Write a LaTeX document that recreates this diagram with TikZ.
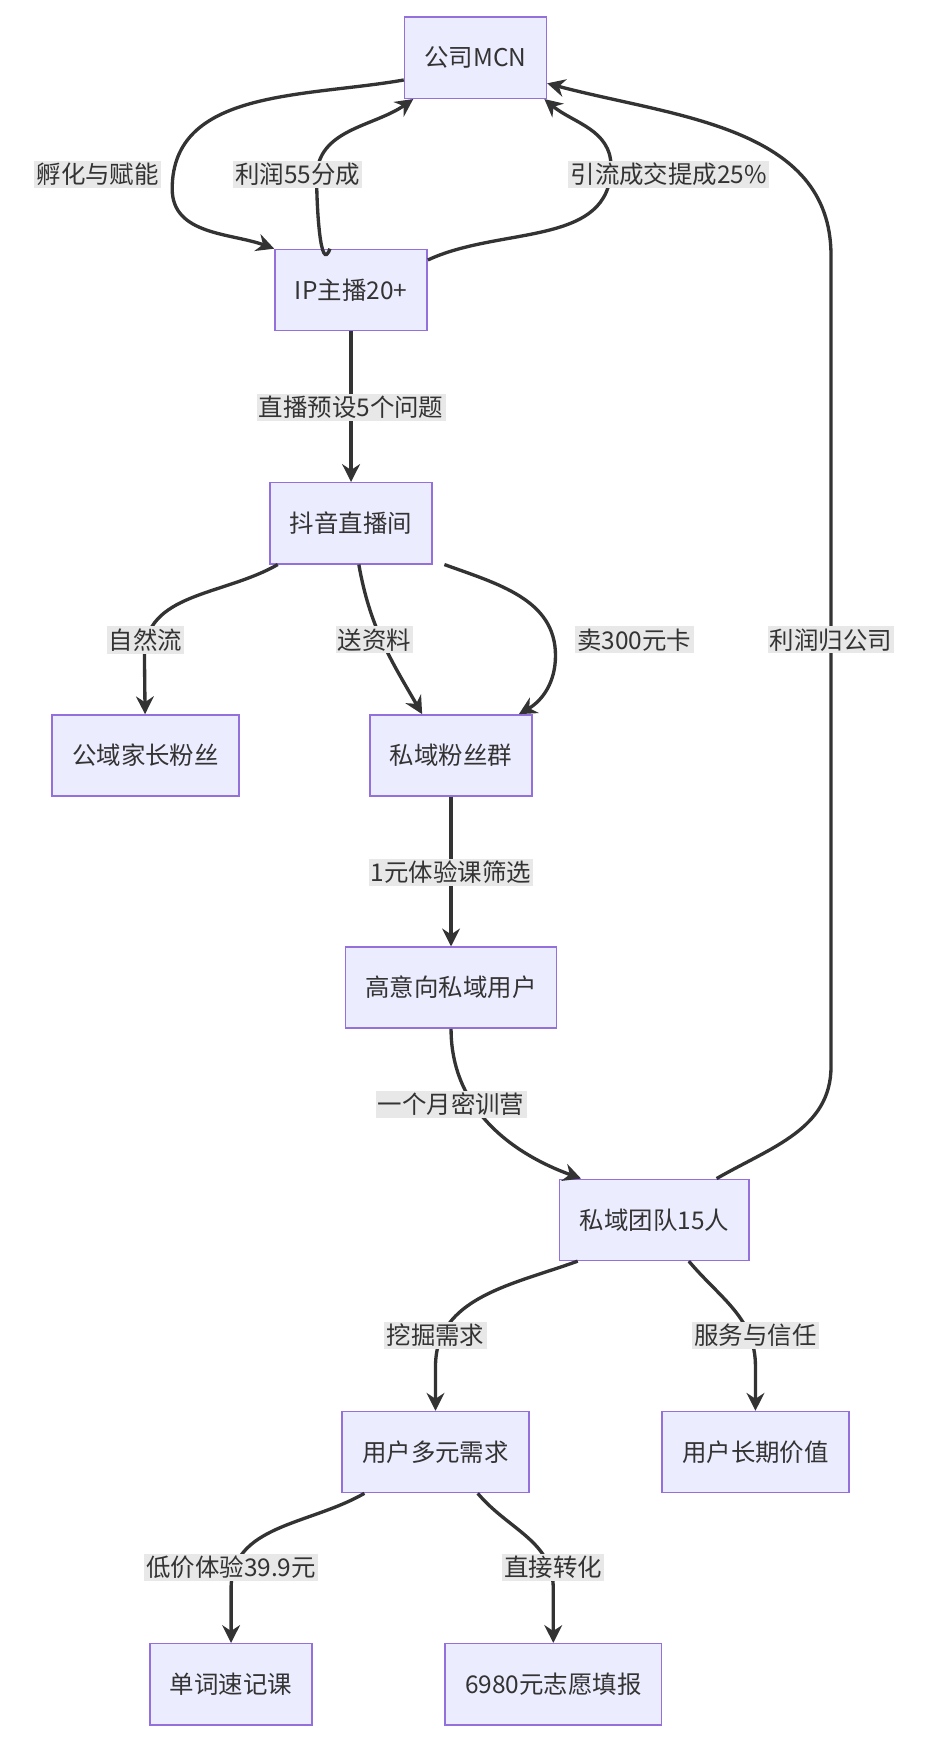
\documentclass[tikz,border=0pt]{standalone}
\usepackage{fontspec}
\setmainfont{Noto Sans CJK SC}
\usetikzlibrary{arrows.meta}
\definecolor{boxfill}{HTML}{ECECFF}
\definecolor{boxline}{HTML}{9370DB}
\definecolor{lblfill}{HTML}{E8E8E8}
\definecolor{ink}{HTML}{333333}
\begin{document}
\begin{tikzpicture}[x=1pt,y=-1pt,
  box/.style={draw=boxline,fill=boxfill,line width=1.3pt,minimum height=73pt,inner xsep=18pt,font=\fontsize{22}{26}\selectfont,text=ink},
  lbl/.style={fill=lblfill,inner sep=2pt,font=\fontsize{22}{26}\selectfont,text=ink},
  arr/.style={draw=ink,line width=3pt,-{Stealth[length=16pt,width=16pt]}}]
\useasboundingbox (0,0) rectangle (835,1568);
\node[box] (mcn) at (428,52) {公司MCN};
\node[box] (ip) at (316,261) {IP主播20+};
\node[box] (douyin) at (316,471) {抖音直播间};
\node[box] (public) at (131,680) {公域家长粉丝};
\node[box] (group) at (406,680) {私域粉丝群};
\node[box] (high) at (406,889) {高意向私域用户};
\node[box] (team) at (589,1098) {私域团队15人};
\node[box] (needs) at (392,1307) {用户多元需求};
\node[box] (value) at (680,1307) {用户长期价值};
\node[box] (word) at (208,1516) {单词速记课};
\node[box] (fill) at (498,1516) {6980元志愿填报};
% connectors
\draw[arr] (mcn.west|-0,72) to[out=190,in=90] (155,170) to[out=-90,in=160] (ip.north west);
\draw[arr] (ip.north-|297,0) to[out=-110,in=-90] (285,160) to[out=90,in=-145] (mcn.south west-|372,0);
\draw[arr] (ip.east|-0,234) to[out=25,in=-90] (550,150) to[out=90,in=-40] (mcn.south-|490,0);
\draw[arr] (team.north-|645,0) to[out=30,in=-90] (748,960) -- (748,230) to[out=90,in=-15] (mcn.east|-0,75);
\draw[arr] (ip) -- (douyin);
\draw[arr] (douyin.south-|250,0) to[out=-150,in=90] (130,590) -- (public);
\draw[arr] (douyin.south-|323,0) to[out=-80,in=120] (group.north-|380,0);
\draw[arr] (douyin.south-|400,0) to[out=-20,in=90] (500,590) to[out=-90,in=30] (group.north-|467,0);
\draw[arr] (group) -- (high);
\draw[arr] (high.south) to[out=-90,in=160] (team.north-|523,0);
\draw[arr] (team.south-|520,0) to[out=-160,in=90] (392,1230) -- (needs);
\draw[arr] (team.south-|620,0) to[out=-50,in=90] (680,1230) -- (value);
\draw[arr] (needs.south-|328,0) to[out=-150,in=90] (208,1430) -- (word);
\draw[arr] (needs.south-|430,0) to[out=-50,in=90] (498,1430) -- (fill);
% labels
\node[lbl] (l1) at (88,157) {孵化与赋能};
\node[lbl] (l2) at (268,157) {利润55分成};
\node[lbl] (l3) at (602,157) {引流成交提成25\%};
\node[lbl] (l4) at (748,576) {利润归公司};
\node[lbl] (l5) at (316,367) {直播预设5个问题};
\node[lbl] (l6) at (131,576) {自然流};
\node[lbl] (l7) at (337,576) {送资料};
\node[lbl] (l8) at (571,576) {卖300元卡};
\node[lbl] (l9) at (406,785) {1元体验课筛选};
\node[lbl] (l10) at (406,994) {一个月密训营};
\node[lbl] (l11) at (392,1202) {挖掘需求};
\node[lbl] (l12) at (680,1202) {服务与信任};
\node[lbl] (l13) at (208,1411) {低价体验39.9元};
\node[lbl] (l14) at (498,1411) {直接转化};
\end{tikzpicture}
\end{document}
